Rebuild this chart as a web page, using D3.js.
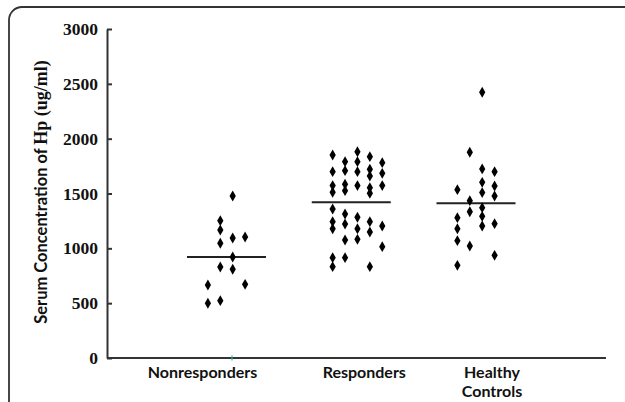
<!DOCTYPE html>
<html>
<head>
<meta charset="utf-8">
<script src="https://cdn.jsdelivr.net/npm/d3@7"></script>
<style>
  body { margin: 0; background: #fff; }
</style>
</head>
<body>
<div id="chart"></div>
<script>
// groups shown on the x axis
const groups = ["Nonresponders", "Responders", "Healthy Controls"];

// [column slot, value], slot = horizontal jitter column
const nonresponders = [
  [0.5, 1477], [-0.5, 1252], [-0.5, 1167], [-0.5, 1046], [0.5, 1094], [1.5, 1103],
  [0.5, 921], [-0.5, 830], [0.5, 809], [-1.5, 666], [1.5, 672], [-1.5, 499], [-0.5, 523]
];
const responders = [
  [-1.5, 1851], [-1.5, 1699], [-1.5, 1572], [-1.5, 1511], [-1.5, 1359], [-1.5, 1243],
  [-1.5, 1179], [-1.5, 915], [-1.5, 833],
  [-0.5, 1790], [-0.5, 1708], [-0.5, 1584], [-0.5, 1526], [-0.5, 1313], [-0.5, 1222],
  [-0.5, 1076], [-0.5, 915],
  [0.5, 1881], [0.5, 1790], [0.5, 1699], [0.5, 1572], [0.5, 1283], [0.5, 1179], [0.5, 1082],
  [1.5, 1836], [1.5, 1721], [1.5, 1660], [1.5, 1553], [1.5, 1502], [1.5, 1243],
  [1.5, 1149], [1.5, 833],
  [2.5, 1781], [2.5, 1684], [2.5, 1572], [2.5, 1204], [2.5, 1015]
];
const healthy = [
  [0.5, 2423], [-0.5, 1876], [0.5, 1724], [1.5, 1699], [0.5, 1602], [1.5, 1568],
  [-1.5, 1535], [0.5, 1508], [1.5, 1477], [-0.5, 1435], [0.5, 1371], [-0.5, 1334],
  [0.5, 1292], [-1.5, 1280], [0.5, 1204], [1.5, 1225], [-1.5, 1179], [-1.5, 1070],
  [-0.5, 1021], [1.5, 936], [-1.5, 845]
];
// horizontal line drawn through each group
const medians = [921, 1420, 1410];
const yTicks = [0, 500, 1000, 1500, 2000, 2500, 3000];

const seriesList = [nonresponders, responders, healthy];

const outerWidth = 625, outerHeight = 402;
const axisLeftX = 107, axisRightX = 606, axisTop = 29, axisBottom = 358;

const svg = d3.select("#chart").append("svg")
    .attr("width", outerWidth)
    .attr("height", outerHeight);

// frame of the figure panel (runs off the right and bottom edges)
svg.append("rect")
    .attr("x", 9).attr("y", 7)
    .attr("width", 720).attr("height", 520)
    .attr("rx", 13)
    .attr("fill", "none")
    .attr("stroke", "#333")
    .attr("stroke-width", 1.8);

const xScale = d3.scalePoint()
    .domain(groups)
    .range([226.5, 476]);

const yScale = d3.scaleLinear()
    .domain([0, 3000])
    .range([axisBottom, axisTop]);

const slotWidth = 12.4;

// y axis, ticks pointing inward
const yAxis = d3.axisLeft(yScale)
    .tickValues(yTicks)
    .tickSizeInner(-5)
    .tickSizeOuter(0)
    .tickPadding(9)
    .tickFormat(d3.format("d"));

const yaxis = svg.append("g")
    .attr("transform", `translate(${axisLeftX},0)`)
    .call(yAxis);
yaxis.select(".domain").attr("stroke", "#333").attr("stroke-width", 2);
yaxis.selectAll(".tick line").attr("stroke", "#333").attr("stroke-width", 2);
yaxis.selectAll(".tick text")
    .attr("font-family", "Liberation Serif, serif")
    .attr("font-weight", "bold")
    .attr("font-size", 17.5)
    .attr("fill", "#111");

// x axis baseline
svg.append("line")
    .attr("x1", axisLeftX).attr("x2", axisRightX)
    .attr("y1", yScale(0)).attr("y2", yScale(0))
    .attr("stroke", "#333")
    .attr("stroke-width", 2.2);

// small teal tick left on the baseline
svg.append("line")
    .attr("x1", xScale(groups[0]) + 5.5).attr("x2", xScale(groups[0]) + 5.5)
    .attr("y1", yScale(0) - 2.5).attr("y2", yScale(0) + 2.5)
    .attr("stroke", "#3aa8a8")
    .attr("stroke-width", 1.2);

// group labels
const labelShift = [-24, 13, 16];
groups.forEach((g, i) => {
    const words = g === "Healthy Controls" ? ["Healthy", "Controls"] : [g];
    const t = svg.append("text")
        .attr("x", xScale(g) + labelShift[i])
        .attr("y", 378)
        .attr("text-anchor", "middle")
        .attr("font-family", "Lato, sans-serif")
        .attr("font-weight", "bold")
        .attr("font-size", 16)
        .attr("fill", "#111");
    words.forEach((w, j) => {
        t.append("tspan")
            .attr("x", xScale(g) + labelShift[i])
            .attr("dy", j === 0 ? 0 : 19)
            .text(w);
    });
});

// y axis title, mixed faces as in the original
const yTitle = svg.append("text")
    .attr("transform", "translate(47,192) rotate(-90)")
    .attr("text-anchor", "middle")
    .attr("font-size", 16.5)
    .attr("fill", "#111");
yTitle.append("tspan")
    .attr("font-family", "Lato, sans-serif")
    .attr("font-weight", "bold")
    .text("Serum Concentration of ");
yTitle.append("tspan")
    .attr("font-family", "Liberation Serif, serif")
    .attr("font-weight", "bold")
    .attr("font-size", 18)
    .text("Hp (ug/ml)");

// median lines
svg.selectAll(".median")
    .data(medians)
    .enter()
    .append("line")
    .attr("class", "median")
    .attr("x1", (d, i) => xScale(groups[i]) - 39.5)
    .attr("x2", (d, i) => xScale(groups[i]) + 39.5)
    .attr("y1", d => yScale(d))
    .attr("y2", d => yScale(d))
    .attr("stroke", "#222")
    .attr("stroke-width", 2);

// points
const diamond = d3.symbol().type(d3.symbolDiamond).size(34);
seriesList.forEach((pts, i) => {
    svg.append("g")
        .selectAll("path")
        .data(pts)
        .enter()
        .append("path")
        .attr("d", diamond)
        .attr("transform", d =>
            `translate(${xScale(groups[i]) + d[0] * slotWidth},${yScale(d[1])})`)
        .attr("fill", "#000");
});
</script>
</body>
</html>
